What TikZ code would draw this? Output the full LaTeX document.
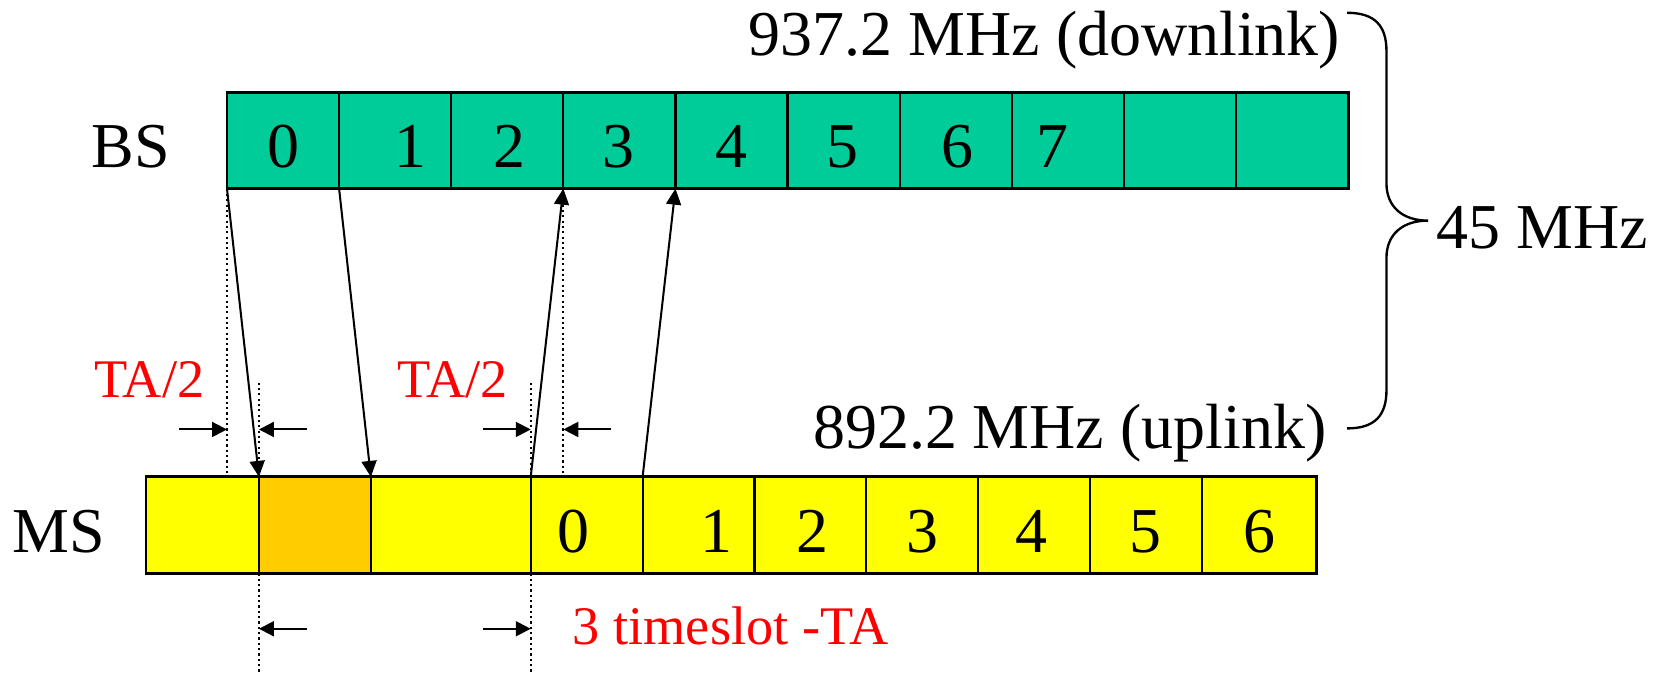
\documentclass[tikz,border=0pt]{standalone}
\usepackage{fontspec}
\setmainfont{Liberation Serif}
\usetikzlibrary{arrows.meta}
\definecolor{bsgreen}{RGB}{0,204,153}
\definecolor{msyellow}{RGB}{255,255,0}
\definecolor{msorange}{RGB}{255,204,0}
\definecolor{tared}{RGB}{255,0,0}
\begin{document}
\begin{tikzpicture}[x=0.5pt,y=-0.5pt,
  cell/.style={draw=black, line width=1pt, inner sep=0pt, outer sep=0pt, anchor=north west},
  bscell/.style={cell, fill=bsgreen, minimum width=52.6pt, minimum height=45pt},
  mscell/.style={cell, minimum height=45.3pt},
  frame/.style={draw=black, line width=1.4pt},
  txt/.style={inner sep=0pt, anchor=base, font=\fontsize{30}{35}\selectfont},
  redtxt/.style={inner sep=0pt, anchor=base, text=tared, font=\fontsize{25.5}{30}\selectfont},
  sig/.style={draw=black, line width=0.95pt, -{Triangle[length=7.5pt,width=7pt]}},
  dim/.style={draw=black, line width=0.95pt, -{Triangle[length=7pt,width=7pt]}},
  dotline/.style={draw=black, line width=1pt, dash pattern=on 1pt off 1.5pt},
  bracepath/.style={draw=black, line width=1.1pt}
]
\useasboundingbox (0,0) rectangle (1568,632);

% BS bar
\foreach \i in {0,...,9} {
  \node[bscell] (b\i) at ({213+105.2*\i},87) {};
}
\draw[frame] (b0.north west) rectangle (b9.south east);

% MS bar
\foreach \i/\x/\w/\c in {0/137/53pt/msyellow, 1/243/52.5pt/msorange, 2/348/75pt/msyellow,
  3/498/52.5pt/msyellow, 4/603/52.5pt/msyellow, 5/708/52.5pt/msyellow, 6/813/52.5pt/msyellow,
  7/918/52.5pt/msyellow, 8/1023/52.5pt/msyellow, 9/1128/53.5pt/msyellow} {
  \node[mscell, fill=\c, minimum width=\w] (m\i) at (\x,447.5) {};
}
\draw[frame] (m0.north west) rectangle (m9.south east);

% labels
\node[txt] (bslabel) at (123,157) {BS};
\node[txt] (mslabel) at (55,518) {MS};
\foreach \n/\x in {0/266, 1/385, 2/478, 3/580, 4/686, 5/791, 6/898, 7/988} {
  \node[txt] (bd\n) at (\x,157) {\n};
}
\foreach \n/\x in {0/538, 1/672, 2/762, 3/866, 4/968, 5/1075, 6/1182} {
  \node[txt] (md\n) at (\x,518) {\n};
}
\node[txt, anchor=base east] (down) at (1258,52) {937.2 MHz (downlink)};
\node[txt, anchor=base east] (up) at (1245,421) {892.2 MHz (uplink)};
\node[txt, anchor=base west] (sep) at (1348,233) {45 MHz};
\node[redtxt] (ta1) at (140,373) {TA/2};
\node[redtxt] (ta2) at (425,373) {TA/2};
\node[redtxt, anchor=base west] (tsl) at (537,605) {3 timeslot -TA};

% brace
\coordinate (brtop) at (1264,12);
\coordinate (brtip) at (1340,207);
\coordinate (brbot) at (1264,402);
\draw[bracepath] (brtop) .. controls (1290,12) and (1301,24) .. (1301,48)
  -- (1301,172) .. controls (1301,194) and (1316,207) .. (brtip)
  .. controls (1316,207) and (1301,220) .. (1301,242)
  -- (1301,366) .. controls (1301,390) and (1290,402) .. (brbot);

% dotted guide lines
\coordinate (g1t) at (243,359);
\coordinate (g1b) at (243,632);
\coordinate (g2t) at (498,359);
\coordinate (g2b) at (498,632);
\draw[dotline] (b0.south west) -- (b0.south west |- m0.north);
\draw[dotline] (b3.south west) -- (b3.south west |- m3.north);
\draw[dotline] (g1t) -- (m1.north west);
\draw[dotline] (m1.south west) -- (g1b);
\draw[dotline] (g2t) -- (m3.north west);
\draw[dotline] (m3.south west) -- (g2b);

% signal arrows
\draw[sig] (b0.south west) -- (m1.north west);
\draw[sig] (b1.south west) -- (m2.north west);
\draw[sig] (m3.north west) -- (b3.south west);
\draw[sig] (m4.north west) -- (b4.south west);

% dimension arrows
\coordinate (d1s) at (168,403);
\coordinate (d2s) at (288,403);
\coordinate (d3s) at (453,403);
\coordinate (d4s) at (573,403);
\coordinate (d5s) at (288,590);
\coordinate (d6s) at (453,590);
\draw[dim] (d1s) -- (d1s -| b0.south west);
\draw[dim] (d2s) -- (d2s -| m1.north west);
\draw[dim] (d3s) -- (d3s -| m3.north west);
\draw[dim] (d4s) -- (d4s -| b3.south west);
\draw[dim] (d5s) -- (d5s -| m1.south west);
\draw[dim] (d6s) -- (d6s -| m3.south west);
\end{tikzpicture}
\end{document}
